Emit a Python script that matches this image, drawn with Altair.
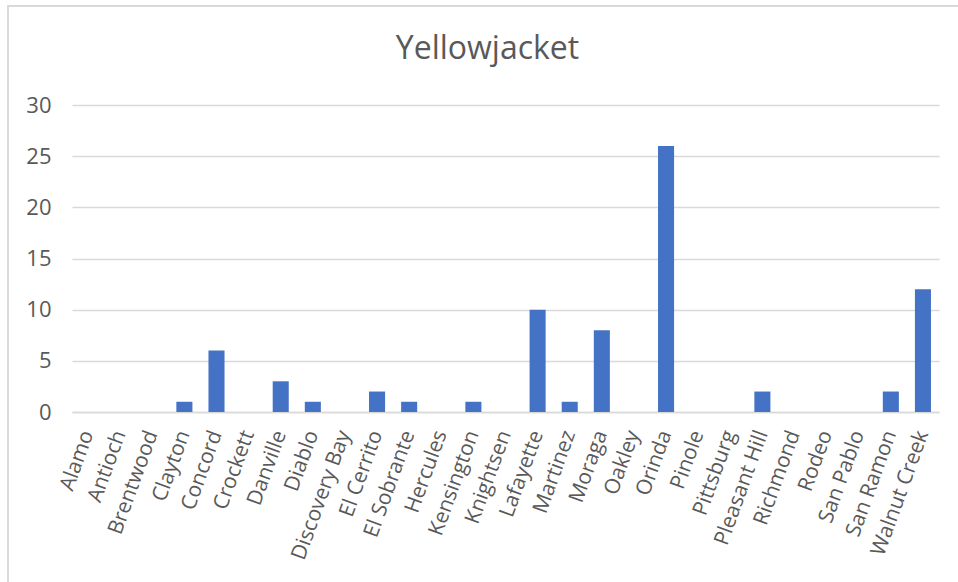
import altair as alt
import pandas as pd

# Yellowjacket reports by community
towns = [
    "Alamo", "Antioch", "Brentwood", "Clayton", "Concord", "Crockett",
    "Danville", "Diablo", "Discovery Bay", "El Cerrito", "El Sobrante",
    "Hercules", "Kensington", "Knightsen", "Lafayette", "Martinez",
    "Moraga", "Oakley", "Orinda", "Pinole", "Pittsburg", "Pleasant Hill",
    "Richmond", "Rodeo", "San Pablo", "San Ramon", "Walnut Creek",
]
counts = [0, 0, 0, 1, 6, 0, 3, 1, 0, 2, 1, 0, 1, 0, 10, 1, 8, 0, 26, 0, 0, 2, 0, 0, 0, 2, 12]
y_ticks = [0, 5, 10, 15, 20, 25, 30]

df = pd.DataFrame({"town": towns, "count": counts})

FONT = "Open Sans"
GREY = "#595959"
LINE = "#d9d9d9"

bars = alt.Chart(df).mark_bar(color="#4472C4").encode(
    x=alt.X(
        "town:N",
        sort=towns,
        title=None,
        scale=alt.Scale(paddingInner=0.5, paddingOuter=0.25),
        axis=alt.Axis(
            labelAngle=-70,
            labelFontSize=21,
            labelColor=GREY,
            labelFont=FONT,
            labelPadding=19,
            ticks=False,
            domainColor=LINE,
            domainWidth=1.5,
            grid=False,
        ),
    ),
    y=alt.Y(
        "count:Q",
        title=None,
        scale=alt.Scale(domain=[0, 30], nice=False),
        axis=alt.Axis(
            values=y_ticks,
            labelFontSize=22,
            labelColor=GREY,
            labelFont=FONT,
            labelPadding=21,
            ticks=False,
            domain=False,
            gridColor=LINE,
            gridWidth=1.5,
        ),
    ),
)

# outer chart frame
frame = alt.Chart(alt.Data(values=[{}])).mark_rect(
    fill=None, stroke=LINE, strokeWidth=2
).encode(
    x=alt.value(-64), x2=alt.value(900),
    y=alt.value(-99), y2=alt.value(490),
)

chart = alt.layer(frame, bars).properties(
    width=867,
    height=307,
    padding={"left": 72, "top": 105, "right": 19, "bottom": 170},
    autosize=alt.AutoSizeParams(type="none"),
    title=alt.TitleParams(
        "Yellowjacket",
        fontSize=32,
        font=FONT,
        fontWeight="normal",
        color=GREY,
        anchor="middle",
        baseline="alphabetic",
        dx=-18,
        offset=-86,
    ),
).configure_view(stroke=None)

chart.save("out.html", embed_options={"renderer": "svg", "actions": False})
